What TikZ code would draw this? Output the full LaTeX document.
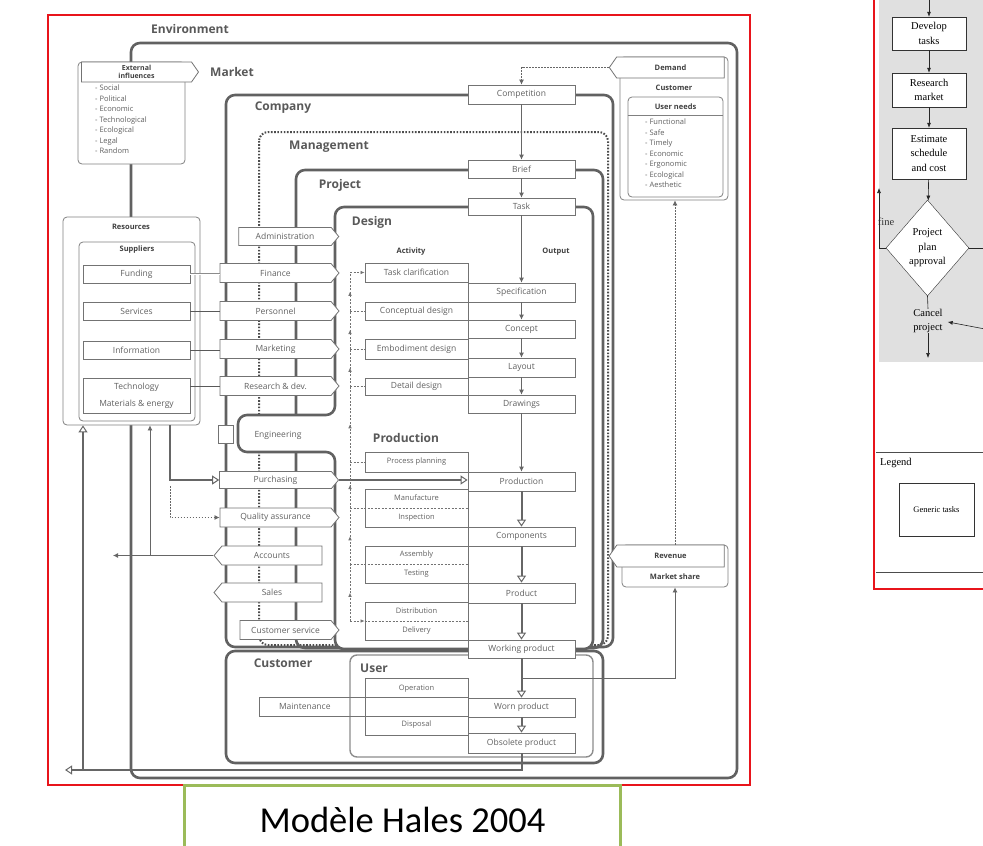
\documentclass[tikz,border=0pt]{standalone}
\usepackage{fontspec}
\setmainfont{Liberation Serif}
\setsansfont{Open Sans}
\newfontfamily\capfont{Carlito}
\usetikzlibrary{arrows.meta,positioning,shapes.geometric,shapes.symbols,decorations.markings}
\definecolor{frame}{HTML}{E8141B}
\definecolor{capgreen}{HTML}{9BBB59}
\definecolor{ink}{gray}{0.38}

\begin{document}
\begin{tikzpicture}[x=1pt, y=-1pt,
  region/.style={draw=black!62, line width=2.6pt, rounded corners=9pt},
  mgmt/.style={draw=black!70, line width=2pt, dash pattern=on 1.6pt off 1.6pt, rounded corners=9pt},
  userreg/.style={draw=black!45, line width=1.4pt, rounded corners=7pt},
  biglbl/.style={font=\sffamily\bfseries\fontsize{12}{14}\selectfont, text=black!65},
  hdr/.style={font=\sffamily\bfseries\fontsize{7.5}{8.5}\selectfont, text=black!75},
  tbox/.style={draw=black!55, fill=white, inner sep=0pt, line width=0.8pt, font=\sffamily\fontsize{8.5}{10}\selectfont, text=ink},
  act/.style={tbox, minimum width=103pt},
  outp/.style={tbox, minimum width=107pt},
  pact/.style={act, font=\sffamily\fontsize{7.5}{19}\selectfont, align=center},
  supbox/.style={tbox, minimum width=107pt, minimum height=18pt},
  fn/.style={tbox, shape=signal, signal pointer angle=100, signal to=east},
  fnw/.style={fn, minimum width=119pt, minimum height=19pt},
  fnback/.style={tbox, shape=signal, signal pointer angle=100, signal to=west, minimum width=108pt, minimum height=19pt},
  panel/.style={draw=black!50, fill=white, line width=0.8pt, rounded corners=4pt},
  listtxt/.style={font=\sffamily\fontsize{7.5}{10.5}\selectfont, text=ink, align=left, anchor=north west, inner sep=0pt},
  flow/.style={draw=black!60, line width=0.8pt, -{Latex[length=5pt,width=5pt]}},
  bigflow/.style={draw=black!60, line width=2pt, -{Triangle[open,length=7pt,width=9pt,line width=1pt]}},
  fbk/.style={draw=black!55, line width=0.7pt, dash pattern=on 2pt off 1.5pt},
  upmark/.style={postaction=decorate, decoration={markings, mark=at position 0.5 with {\arrow{Latex[length=4pt,width=3.5pt]}}}},
  fc/.style={draw=black!80, fill=white, font=\rmfamily\fontsize{10.5}{14.5}\selectfont, align=center, inner sep=0pt},
  fcarr/.style={draw=black!85, line width=0.6pt, -{Latex[length=5pt,width=4pt]}}
]
  \useasboundingbox (0,0) rectangle (983,846);
  \draw[frame, line width=1.4pt] (48,15) rectangle (750,785);
  \fill[black!12] (879,0) rectangle (983,362);
  \draw[frame, line width=2pt] (874,-2) -- (874,589) -- (985,589);

  \draw[region] (131,43) rectangle (737,778);
  \draw[region] (226,95) rectangle (613,647);
  \draw[mgmt] (259,132) rectangle (608,645);
  \draw[region] (296,170) rectangle (603,648);
  \draw[region, fill=white] (335,207) -- (593,207) -- (593,649) -- (335,649) -- (335,452) -- (238,452) -- (238,415) -- (335,415) -- cycle;
  \draw[region] (226,651) rectangle (603,763);
  \draw[userreg] (350,655) rectangle (593,757);

  \node[biglbl] (envlbl) at (190,29) {Environment};
  \node[biglbl] (mktlbl) at (232,72) {Market};
  \node[biglbl] (comlbl) at (283,108) {Company};
  \node[biglbl] (mgtlbl) at (329,147) {Management};
  \node[biglbl] (prjlbl) at (340,185) {Project};
  \node[biglbl] (deslbl) at (372,222) {Design};
  \node[biglbl] (prdlbl) at (406,438) {Production};
  \node[biglbl] (cuslbl) at (283,663) {Customer};
  \node[biglbl] (usrlbl) at (374,668) {User};
  \node[hdr] (actlbl) at (411,252) {Activity};
  \node[hdr] (outlbl) at (556,252) {Output};

  \node[panel, minimum width=107pt, minimum height=102pt] (ext) at (131.5,113) {};
  \node[tbox, shape=signal, signal to=east, signal pointer angle=110, minimum width=117pt, minimum height=20pt, font=\sffamily\bfseries\fontsize{7}{7.5}\selectfont, align=center, text=black!75] (exthd) at (136.5,72) {External\\influences};
  \node[listtxt] (extlist) at (95,85) {- Social\\- Political\\- Economic\\- Technological\\- Ecological\\- Legal\\- Random};

  \node[panel, minimum width=137pt, minimum height=208pt] (res) at (131.5,321) {};
  \node[hdr] (reslbl) at (131,227) {Resources};
  \node[panel, minimum width=116pt, minimum height=179pt] (sup) at (137,331.5) {};
  \node[hdr] (suplbl) at (137,250) {Suppliers};
  \node[supbox] (fund) at (136.5,274) {Funding};
  \node[supbox] (serv) at (136.5,311) {Services};
  \node[supbox] (info) at (136.5,350) {Information};
  \node[supbox, minimum height=35pt, align=center, font=\sffamily\fontsize{8.5}{17}\selectfont] (tech) at (136.5,395.5) {Technology\\Materials \& energy};

  \node[fn, minimum width=100pt, minimum height=18pt] (adm) at (285,236.5) {Administration};
  \node[fnw] (fin) at (275.5,273) {Finance};
  \node[fnw] (pers) at (275.5,311) {Personnel};
  \node[fnw] (mkt) at (275.5,349) {Marketing};
  \node[fnw] (rnd) at (275.5,386) {Research \& dev.};
  \node[tbox, minimum width=15pt, minimum height=18pt] (eng) at (225.5,434) {};
  \node[font=\sffamily\fontsize{8.5}{10}\selectfont, text=ink] (englbl) at (278,435) {Engineering};
  \node[fnw, minimum height=17pt] (pur) at (275.5,480) {Purchasing};
  \node[fnw] (qa) at (275.5,517.5) {Quality assurance};
  \node[fnback] (acc) at (272,555.5) {Accounts};
  \node[fnback] (sal) at (272,592.5) {Sales};
  \node[fn, minimum width=99pt, minimum height=19pt] (csrv) at (285.5,630) {Customer service};

  \node[outp, minimum height=19pt] (comp) at (521.5,94.5) {Competition};
  \node[outp, minimum height=18pt] (brief) at (521.5,169) {Brief};
  \node[outp, minimum height=17pt] (task) at (521.5,206.5) {Task};

  \node[act, minimum height=19pt] (tc) at (416.5,272.5) {Task clarification};
  \node[outp, minimum height=19pt] (spec) at (521.5,292.5) {Specification};
  \node[act, minimum height=18pt] (cd) at (416.5,311) {Conceptual design};
  \node[outp, minimum height=18pt] (conc) at (521.5,329) {Concept};
  \node[act, minimum height=20pt] (ed) at (416.5,349) {Embodiment design};
  \node[outp, minimum height=19pt] (lay) at (521.5,367.5) {Layout};
  \node[act, minimum height=17pt] (dd) at (416.5,386.5) {Detail design};
  \node[outp, minimum height=18pt] (drw) at (521.5,404) {Drawings};

  \node[act, minimum height=20pt, font=\sffamily\fontsize{7.5}{9}\selectfont] (pp) at (416.5,462) {Process planning};
  \node[outp, minimum height=19pt] (prod) at (521.5,481.5) {Production};
  \node[pact, minimum height=38pt] (mi) at (416.5,508) {Manufacture\\Inspection};
  \node[outp, minimum height=19pt] (comps) at (521.5,536.5) {Components};
  \node[pact, minimum height=37pt] (asm) at (416.5,564.5) {Assembly\\Testing};
  \node[outp, minimum height=20pt] (prodt) at (521.5,593) {Product};
  \node[pact, minimum height=38pt] (dist) at (416.5,621) {Distribution\\Delivery};
  \node[outp, minimum height=18pt] (wp) at (521.5,649) {Working product};

  \node[act, fill=none, minimum height=57pt, align=center, font=\sffamily\fontsize{7.5}{36}\selectfont] (opd) at (416.5,706.5) {Operation\\Disposal};
  \node[tbox, fill=none, minimum width=209pt, text width=209pt, minimum height=19pt, align=left] (maint) at (363.5,706.5) {\hspace*{20pt}Maintenance};
  \node[outp, minimum height=19pt] (worn) at (521.5,707.5) {Worn product};
  \node[outp, minimum height=20pt] (obs) at (521.5,743) {Obsolete product};

  \node[panel, minimum width=108pt, minimum height=143pt] (cust) at (674,128.5) {};
  \node[tbox, hdr, shape=signal, signal to=west, signal pointer angle=110, minimum width=115pt, minimum height=21pt] (dem) at (670.5,67.5) {Demand};
  \node[hdr] (custlbl) at (674,88) {Customer};
  \node[panel, minimum width=95pt, minimum height=100pt] (un) at (675.5,147) {};
  \draw[draw=black!50, line width=0.8pt] (un.north west) ++(0,19) -- ++(95,0);
  \node[hdr] (unlbl) at (675.5,107) {User needs};
  \node[listtxt] (unlist) at (645,119) {- Functional\\- Safe\\- Timely\\- Economic\\- Ergonomic\\- Ecological\\- Aesthetic};

  \node[panel, minimum width=106pt, minimum height=42pt] (rev) at (675,566) {};
  \node[tbox, hdr, shape=signal, signal to=west, signal pointer angle=110, minimum width=115pt, minimum height=22pt] (revhd) at (670.5,556) {Revenue};
  \node[hdr] (mslbl) at (675,577) {Market share};

  \draw[flow, dash pattern=on 1.5pt off 1.5pt] (dem.west) -| (comp.north);
  \draw[flow] (comp) -- (brief);
  \draw[flow] (brief) -- (task);
  \draw[flow] (task) -- (spec);
  \draw[flow] (spec) -- (conc);
  \draw[flow] (conc) -- (lay);
  \draw[flow] (lay) -- (drw);
  \draw[flow] (drw) -- (prod);
  \draw[bigflow] (prod) -- (comps);
  \draw[bigflow] (comps) -- (prodt);
  \draw[bigflow] (prodt) -- (wp);
  \draw[bigflow] (wp) -- (worn);
  \draw[bigflow] (worn) -- (obs);

  \coordinate (sink) at (65,770);
  \coordinate (recyc) at (83,770);
  \draw[bigflow] (obs.south) |- (sink);
  \draw[bigflow, line width=1.4pt] (recyc) -- (recyc |- res.south);
  \coordinate (wpsplit) at (521.5,678);
  \draw[flow] (wpsplit) -| (rev.south);
  \draw[flow, dash pattern=on 1.5pt off 1.5pt] (rev.north) -- (rev.north |- cust.south);

  \draw[draw=black!45, double=white, double distance=1pt] (fund.east) -- (fund.east -| fin.west);
  \draw[draw=black!65, line width=0.8pt] (serv.east) -- (serv.east -| pers.west);
  \draw[draw=black!65, line width=0.8pt] (info.east) -- (info.east -| mkt.west);
  \draw[draw=black!65, line width=0.8pt] (tech.east |- rnd.west) -- (rnd.west);

  \coordinate (pdrop) at (170,425);
  \coordinate (qdrop) at (170,486);
  \draw[bigflow] (pdrop) |- (pur.west);
  \draw[bigflow] (pur.east) -- (pur.east -| prod.west);
  \draw[flow, dash pattern=on 1.5pt off 1.5pt] (qdrop) |- (qa.west);
  \coordinate (accout) at (113,555.5);
  \coordinate (accup) at (150,555.5);
  \draw[flow] (acc.west) -- (accout);
  \draw[flow] (accup) -- (accup |- res.south);

  \coordinate (fbx) at (350,0);
  \draw[fbk, -{Latex[length=4pt,width=3.5pt]}] (fbx |- tc.west) -- (tc.west);
  \foreach \lo/\hi in {cd/tc, ed/cd, dd/ed, pp/dd, mi/pp, asm/mi, dist/asm}
    \draw[fbk, upmark] (fbx |- \lo.west) -- (fbx |- \hi.west);
  \foreach \n in {cd, ed, dd, pp}
    \draw[fbk] (fbx |- \n.west) -- (\n.west);
  \foreach \n in {mi, asm}
    \draw[fbk] (fbx |- \n.west) -- (\n.east);
  \draw[fbk, -{Latex[length=4pt,width=3.5pt]}] (fbx |- dist.west) -- (dist.west);
  \draw[fbk] (dist.west) -- (dist.east);

  \node[fc, minimum width=74pt, minimum height=33pt] (dev) at (929,33.5) {Develop\\tasks};
  \node[fc, minimum width=74pt, minimum height=34pt] (rmk) at (929,90) {Research\\market};
  \node[fc, minimum width=74pt, minimum height=51pt] (est) at (929,153.5) {Estimate\\schedule\\and cost};
  \node[fc, diamond, minimum width=83pt, minimum height=96pt] (ppa) at (927.5,248) {Project\\plan\\approval};
  \node[fc, draw=none, fill=none] (cnl) at (928,321) {Cancel\\project};
  \node[font=\rmfamily\fontsize{10.5}{12}\selectfont, text=black!80, inner sep=0pt] (fine) at (886,222) {fine};
  \coordinate (dtop) at (929,-2);
  \coordinate (rfup) at (879,188);
  \coordinate (ppaout) at (985,248);
  \coordinate (cnlin) at (985,329);
  \coordinate (cnlout) at (928,358);
  \draw[fcarr] (dtop) -- (dev);
  \draw[fcarr] (dev) -- (rmk);
  \draw[fcarr] (rmk) -- (est);
  \draw[fcarr] (est) -- (ppa);
  \draw[draw=black!85, line width=0.6pt] (ppa.east) -- (ppaout);
  \draw[fcarr] (ppa.west) -| (rfup);
  \draw[draw=black!85, line width=0.6pt] (ppa.south) -- (cnl.north);
  \draw[fcarr] (cnl.south) -- (cnlout);
  \draw[fcarr, shorten >=5pt] (cnlin) -- (cnl.east);

  \coordinate (lga) at (876,452);
  \coordinate (lgb) at (985,452);
  \coordinate (lgc) at (876,572);
  \coordinate (lgd) at (985,572);
  \draw[draw=black!70, line width=0.6pt] (lga) -- (lgb);
  \draw[draw=black!70, line width=0.6pt] (lgc) -- (lgd);
  \node[font=\rmfamily\fontsize{10.5}{12}\selectfont, anchor=west, inner sep=0pt] (lg) at (880,463) {Legend};
  \node[fc, minimum width=75pt, minimum height=53pt, font=\rmfamily\fontsize{8.5}{10}\selectfont] (gen) at (936.5,509.5) {Generic tasks};

  \node[draw=capgreen, line width=3pt, fill=white, minimum width=436pt, minimum height=70pt, anchor=north, font=\capfont\fontsize{36.5}{40}\selectfont, text=black] (cap) at (402.5,783.5) {Modèle Hales 2004};
\end{tikzpicture}
\end{document}
